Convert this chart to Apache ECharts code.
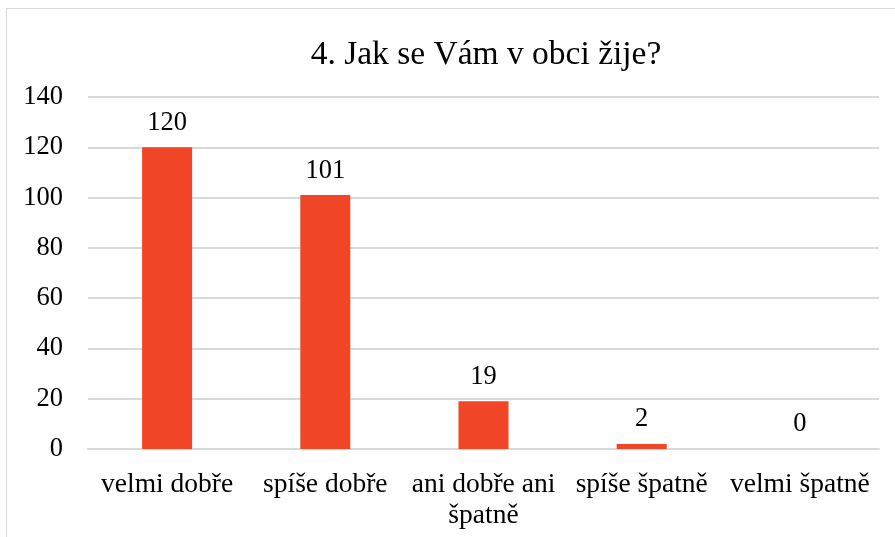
<!DOCTYPE html>
<html><head><meta charset="utf-8">
<script src="https://cdn.jsdelivr.net/npm/echarts@6/dist/echarts.min.js"></script>
<style>
html,body{margin:0;padding:0;background:#fff;overflow:hidden;}
#frame{position:absolute;left:6px;top:8px;width:900px;height:540px;border:1px solid #d9d9d9;box-sizing:border-box;}
#c{position:absolute;left:0;top:0;width:895px;height:537px;}
</style></head><body>
<div id="frame"></div>
<div id="c"></div>
<script>
const titleText = '4. Jak se Vám v obci žije?';
const categories = ['velmi dobře', 'spíše dobře', 'ani dobře ani\nšpatně', 'spíše špatně', 'velmi špatně'];
const values = [120, 101, 19, 2, 0];
const yMin = 0, yMax = 140, yStep = 20;
const font = '"Liberation Serif", "Times New Roman", serif';

const chart = echarts.init(document.getElementById('c'), null, {renderer: 'canvas'});
chart.setOption({
  animation: false,
  backgroundColor: 'transparent',
  title: {
    text: titleText,
    left: 481, top: 33, textAlign: 'center',
    textStyle: {fontFamily: font, fontSize: 33.5, fontWeight: 'normal', color: '#000'}
  },
  grid: {left: 88, right: 16, top: 97, bottom: 88, containLabel: false},
  xAxis: {
    type: 'category',
    data: categories,
    axisLine: {show: true, lineStyle: {color: '#d9d9d9', width: 2}},
    axisTick: {show: false},
    axisLabel: {fontFamily: font, fontSize: 27.5, color: '#000', margin: 20, lineHeight: 31, interval: 0}
  },
  yAxis: {
    type: 'value',
    min: yMin, max: yMax, interval: yStep,
    axisLine: {show: false},
    axisTick: {show: false},
    splitLine: {lineStyle: {color: '#d9d9d9', width: 2}},
    axisLabel: {fontFamily: font, fontSize: 26.5, color: '#000', margin: 25}
  },
  series: [{
    type: 'bar',
    data: values,
    barWidth: 50,
    itemStyle: {color: '#F04526'},
    label: {show: true, position: 'top', distance: 11, fontFamily: font, fontSize: 26.5, color: '#000'}
  }]
});
</script>
</body></html>
